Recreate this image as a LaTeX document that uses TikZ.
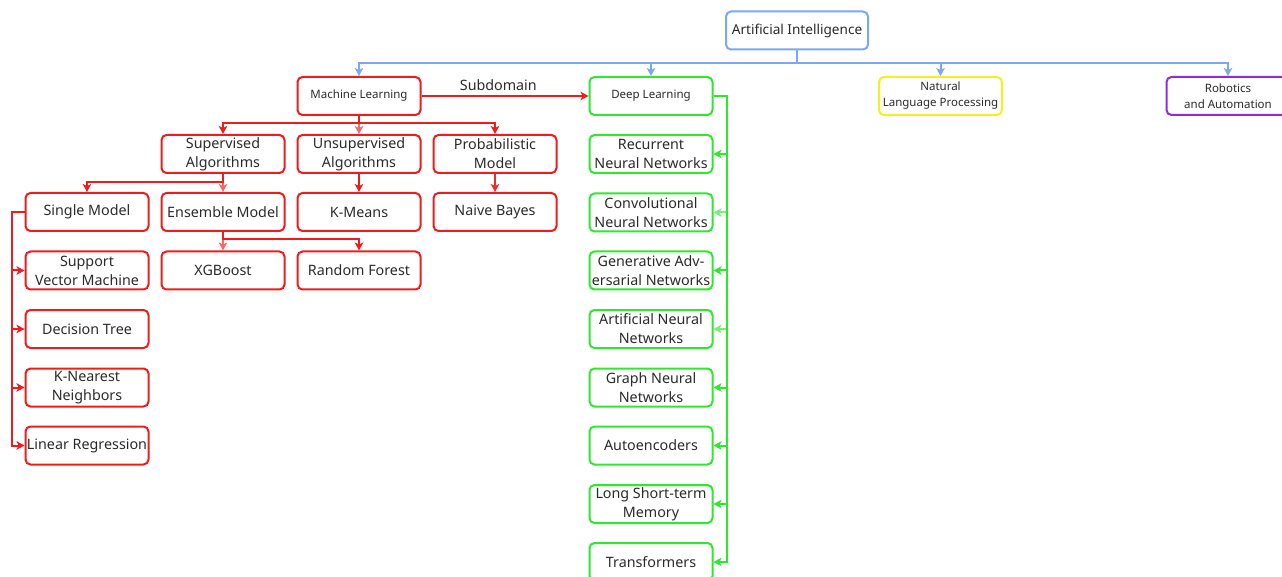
\documentclass[tikz,border=0pt]{standalone}
\usepackage{fontspec}
\setmainfont{Noto Sans}
\usetikzlibrary{arrows.meta,calc}
\definecolor{cred}{HTML}{EE1C1C}
\definecolor{cpink}{HTML}{F26A6A}
\definecolor{cgreen}{HTML}{2EE82E}
\definecolor{cltgreen}{HTML}{7AEE7A}
\definecolor{cblue}{HTML}{7BA8EE}
\definecolor{cyel}{HTML}{F2F020}
\definecolor{cpurp}{HTML}{8E2BE0}
\definecolor{ctext}{HTML}{2A2A2A}
\tikzset{
  box/.style={draw, line width=2pt, rounded corners=5pt, minimum width=123pt, minimum height=38pt, inner sep=0pt, align=center, text=ctext, font=\fontsize{14.3}{19}\selectfont},
  smallbox/.style={box, font=\fontsize{11.5}{16}\selectfont},
  redbox/.style={box, draw=cred},
  greenbox/.style={box, draw=cgreen},
  conn/.style={line width=2pt, -{Stealth[length=8pt,width=8.5pt,inset=2pt]}},
}
\begin{document}
\begin{tikzpicture}[x=1pt,y=-1pt]
\useasboundingbox (0,0) rectangle (1282,577);
% top
\node[box, draw=cblue, minimum width=142pt, font=\fontsize{13.6}{16}\selectfont] (ai) at (797,30.5) {Artificial Intelligence};
\node[smallbox, draw=cred] (ml) at (359,96) {Machine Learning};
\node[smallbox, draw=cgreen] (dl) at (651,96) {Deep Learning};
\node[smallbox, draw=cyel] (nlp) at (940.5,96) {Natural\\Language Processing};
\node[smallbox, draw=cpurp] (rob) at (1228,96) {Robotics\\and Automation};
\foreach \c in {ml,dl,nlp,rob}{
  \draw[conn, draw=cblue] (ai.south) -- ++(0,13) -| (\c.north);
}
\draw[conn, draw=cred] (ml.east) -- node[pos=0.46, above, text=ctext, font=\fontsize{14.3}{16}\selectfont, yshift=1pt] (sublbl) {Subdomain} (dl.west);
% ML level 2
\node[redbox] (sup) at (223,154) {Supervised\\Algorithms};
\node[redbox] (uns) at (359,154) {Unsupervised\\Algorithms};
\node[redbox] (prob) at (495,154) {Probabilistic\\Model};
\draw[conn, draw=cpink] (ml.south) -- ++(0,7) -| (uns.north);
\draw[conn, draw=cred] (ml.south) -- ++(0,7) -| (sup.north);
\draw[conn, draw=cred] (ml.south) -- ++(0,7) -| (prob.north);
% ML level 3
\node[redbox] (single) at (87,212) {Single Model};
\node[redbox] (ens) at (223,212) {Ensemble Model};
\node[redbox] (kmeans) at (359,212) {K-Means};
\node[redbox] (nb) at (495,212) {Naive Bayes};
\draw[conn, draw=cpink] (sup.south) -- ++(0,8) -| (ens.north);
\draw[conn, draw=cred] (sup.south) -- ++(0,8) -| (single.north);
\draw[conn, draw=cred] (uns.south) -- (kmeans.north);
\draw[conn, draw=cred!80!cpink] (prob.south) -- (nb.north);
% ensemble children
\node[redbox] (xgb) at (223,270.5) {XGBoost};
\node[redbox] (rf) at (359,270.5) {Random Forest};
\draw[conn, draw=cpink] (ens.south) -- ++(0,7) -| (xgb.north);
\draw[conn, draw=cred] (ens.south) -- ++(0,7) -| (rf.north);
% single model children
\node[redbox] (svm) at (87,270.5) {Support\\Vector Machine};
\node[redbox] (dt) at (87,329) {Decision Tree};
\node[redbox] (knn) at (87,387.5) {K-Nearest\\Neighbors};
\node[redbox] (lr) at (87,445.5) {Linear Regression};
\foreach \c in {svm,dt,knn,lr}{
  \draw[conn, draw=cred] (single.west) -- ++(-13,0) |- (\c.west);
}
% deep learning children
\node[greenbox] (rnn) at (651,154) {Recurrent\\Neural Networks};
\node[greenbox] (cnn) at (651,212.5) {Convolutional\\Neural Networks};
\node[greenbox] (gan) at (651,270.5) {Generative Adv-\\ersarial Networks};
\node[greenbox] (ann) at (651,329) {Artificial Neural\\Networks};
\node[greenbox] (gnn) at (651,387.5) {Graph Neural\\Networks};
\node[greenbox] (ae) at (651,445.5) {Autoencoders};
\node[greenbox] (lstm) at (651,504) {Long Short-term\\Memory};
\node[greenbox] (tr) at (651,562) {Transformers};
\foreach \c in {cnn,ann}{
  \draw[conn, draw=cltgreen] (dl.east) -- ++(13,0) |- (\c.east);
}
\foreach \c in {rnn,gan,gnn,ae,lstm,tr}{
  \draw[conn, draw=cgreen] (dl.east) -- ++(13,0) |- (\c.east);
}
\end{tikzpicture}
\end{document}
